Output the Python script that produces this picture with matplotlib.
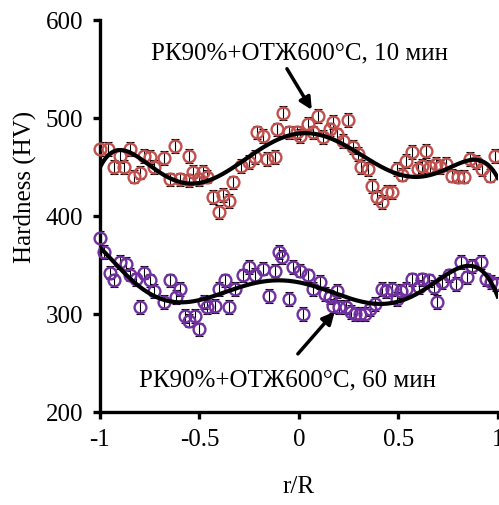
import numpy as np
import matplotlib
matplotlib.use("Agg")
import matplotlib.pyplot as plt

plt.rcParams['font.family'] = ['Liberation Serif', 'DejaVu Serif']

# 10 min series (red)
x10 = [-1.0, -0.96, -0.90, -0.85, -0.93, -0.88, -0.83, -0.80, -0.78, -0.75, -0.73, -0.68,
       -0.625, -0.55, -0.65, -0.60, -0.55, -0.53, -0.48, -0.46, -0.50, -0.43, -0.38, -0.35,
       -0.40, -0.33, -0.29, -0.25, -0.22, -0.16, -0.12, -0.21, -0.18, -0.11, -0.08, -0.05,
       -0.01, 0.005, 0.045, 0.095, 0.07, 0.12, 0.17, 0.155, 0.19, 0.22, 0.245, 0.27, 0.295,
       0.315, 0.35, 0.37, 0.395, 0.42, 0.445, 0.47, 0.495, 0.52, 0.54, 0.57, 0.60, 0.62,
       0.64, 0.66, 0.69, 0.71, 0.74, 0.77, 0.80, 0.83, 0.86, 0.89, 0.92, 0.96, 0.985]
y10 = [468, 468, 461, 468, 450, 450, 440, 444, 461, 460, 450, 459,
       471, 461, 437, 437, 436, 445, 445, 440, 437, 419, 421, 415,
       404, 434, 451, 455, 460, 458, 460, 485, 481, 488, 505, 485,
       485, 481, 494, 502, 485, 480, 496, 488, 483, 476, 498, 470, 463,
       450, 448, 430, 419, 414, 424, 424, 448, 442, 456, 465, 448, 451,
       466, 450, 453, 450, 453, 441, 440, 440, 458, 455, 448, 441, 461]

# 60 min series (purple)
x60 = [-1.0, -0.98, -0.95, -0.93, -0.90, -0.87, -0.85, -0.82, -0.80, -0.78, -0.75, -0.73,
       -0.68, -0.65, -0.60, -0.62, -0.575, -0.55, -0.52, -0.50, -0.475, -0.46, -0.42, -0.40,
       -0.37, -0.35, -0.32, -0.28, -0.25, -0.22, -0.18, -0.15, -0.12, -0.10, -0.085, -0.05,
       -0.03, 0.005, 0.02, 0.045, 0.07, 0.105, 0.13, 0.155, 0.19, 0.17, 0.20, 0.235, 0.26,
       0.28, 0.31, 0.335, 0.36, 0.385, 0.42, 0.44, 0.47, 0.495, 0.515, 0.54, 0.57, 0.605,
       0.62, 0.655, 0.68, 0.695, 0.72, 0.755, 0.79, 0.815, 0.845, 0.87, 0.915, 0.94, 0.965, 0.99]
y60 = [377, 363, 342, 334, 353, 351, 340, 335, 307, 342, 334, 323,
       312, 334, 325, 317, 298, 293, 298, 284, 312, 307, 308, 325,
       334, 307, 325, 339, 348, 340, 346, 318, 344, 363, 358, 315,
       348, 344, 300, 339, 325, 332, 320, 317, 323, 308, 307, 307, 302,
       300, 300, 300, 305, 310, 325, 323, 325, 315, 323, 325, 335, 327,
       335, 334, 327, 312, 332, 339, 330, 353, 337, 349, 353, 335, 332, 330]

err10 = 7
err60 = 7

xticks = [-1, -0.5, 0, 0.5, 1]
xticklabels = ['-1', '-0.5', '0', '0.5', '1']
yticks = [200, 300, 400, 500, 600]

label10 = 'РК90%+ОТЖ600°С, 10 мин'
label60 = 'РК90%+ОТЖ600°С, 60 мин'

fig = plt.figure(figsize=(4.99, 5.06), dpi=100)
ax = fig.add_axes([0.2004, 0.1844, 0.797, 0.7746])

red = '#c0504d'
purple = '#7030a0'

for xs, ys, err, col in [(x10, y10, err10, red), (x60, y60, err60, purple)]:
    ax.errorbar(xs, ys, yerr=err, fmt='none', ecolor='black', elinewidth=0.8,
                capsize=3, capthick=0.8, zorder=2)
    ax.plot(xs, ys, 'o', mfc='none', mec=col, mew=1.7, ms=8.5, zorder=3, clip_on=False)
    coef = np.polyfit(xs, ys, 6)
    xf = np.linspace(-1, 1, 300)
    ax.plot(xf, np.polyval(coef, xf), color='black', lw=3, zorder=4)

ax.set_xlim(-1, 1)
ax.set_ylim(200, 600)
ax.set_xticks(xticks)
ax.set_xticklabels(xticklabels)
ax.set_yticks(yticks)
for s in ['top', 'right']:
    ax.spines[s].set_visible(False)
for s in ['left', 'bottom']:
    ax.spines[s].set_linewidth(2.4)
ax.tick_params(direction='out', length=5, width=2.4, labelsize=18, pad=7)
ax.set_xlabel('r/R', fontsize=18)
ax.set_ylabel('Hardness (HV)', fontsize=18)
ax.xaxis.set_label_coords(0.5, -0.162)
ax.yaxis.set_label_coords(-0.158, 0.577)

ax.text(0.005, 567, label10, ha='center', va='center', fontsize=18)
ax.text(-0.055, 233, label60, ha='center', va='center', fontsize=18)
arrow = dict(arrowstyle='-|>', color='black', lw=2.5, mutation_scale=18, shrinkA=0, shrinkB=0)
ax.annotate('', xy=(0.065, 508), xytext=(-0.06, 550), arrowprops=arrow)
ax.annotate('', xy=(0.18, 302), xytext=(-0.005, 259), arrowprops=arrow)

fig.savefig('out.png', dpi=100)
